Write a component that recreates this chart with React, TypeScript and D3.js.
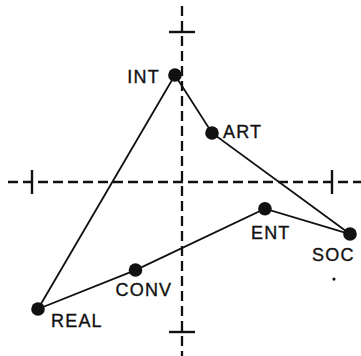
import React from "react";
import * as d3 from "d3";

const labels = ["REAL", "INT", "ART", "SOC", "ENT", "CONV"];
const xValues = [-0.96, -0.047, 0.2, 1.12, 0.553, -0.31];
const yValues = [-0.847, 0.713, 0.327, -0.347, -0.178, -0.587];
const extraDot = [1.013, -0.647];
const tickValues = [-1, 1];

const labelOffsets: Record<string, [number, number, string]> = {
  REAL: [13, 18, "start"],
  INT: [-15, 8, "end"],
  ART: [11, 5, "start"],
  SOC: [-38, 27, "start"],
  ENT: [-14, 30, "start"],
  CONV: [-20, 26, "start"],
};

export default function App() {
  const W = 361, H = 356;
  const x = d3.scaleLinear().domain([-1, 1]).range([32, 332]);
  const y = d3.scaleLinear().domain([-1, 1]).range([332, 32]);
  const pts = labels.map((l, i) => ({ l, x: xValues[i], y: yValues[i] }));
  const line = d3
    .line<{ x: number; y: number }>()
    .x((d) => x(d.x))
    .y((d) => y(d.y))
    .curve(d3.curveLinearClosed);
  return (
    <svg
      width={W}
      height={H}
      style={{ position: "absolute", left: 0, top: 0, background: "#fff" }}
    >
      <line
        x1={x(-1.16)}
        x2={x(1.2)}
        y1={y(0)}
        y2={y(0)}
        stroke="#111"
        strokeWidth={2.3}
        strokeDasharray="10,5"
      />
      <line
        x1={x(0)}
        x2={x(0)}
        y1={y(1.173)}
        y2={y(-1.2)}
        stroke="#111"
        strokeWidth={2.3}
        strokeDasharray="10,5"
      />
      {tickValues.map((t) => (
        <g key={"t" + t}>
          <line x1={x(t)} x2={x(t)} y1={y(0) - 12} y2={y(0) + 12} stroke="#111" strokeWidth={2.4} />
          <line y1={y(t)} y2={y(t)} x1={x(0) - 13} x2={x(0) + 13} stroke="#111" strokeWidth={2.4} />
        </g>
      ))}
      <path d={line(pts) || ""} fill="none" stroke="#111" strokeWidth={1.8} />
      {pts.map((p) => (
        <circle key={p.l} cx={x(p.x)} cy={y(p.y)} r={6.8} fill="#111" />
      ))}
      <circle cx={x(extraDot[0])} cy={y(extraDot[1])} r={1.6} fill="#111" />
      {pts.map((p) => {
        const [dx, dy, anchor] = labelOffsets[p.l];
        return (
          <text
            key={"l" + p.l}
            x={x(p.x) + dx}
            y={y(p.y) + dy}
            textAnchor={anchor}
            fontFamily="Liberation Sans, Arial, sans-serif"
            fontSize={18}
            letterSpacing={1.2}
            fill="#111"
            stroke="#111"
            strokeWidth={0.35}
          >
            {p.l}
          </text>
        );
      })}
    </svg>
  );
}
